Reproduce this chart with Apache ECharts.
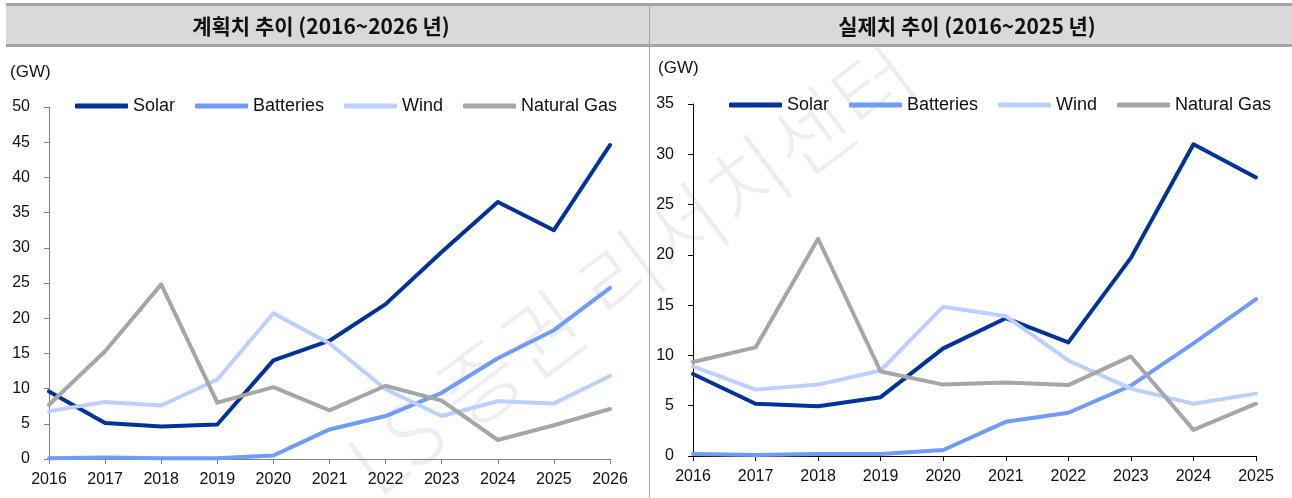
<!DOCTYPE html>
<html>
<head>
<meta charset="utf-8">
<script src="https://cdn.jsdelivr.net/npm/echarts@6/dist/echarts.min.js"></script>
<style>
  html, body { margin: 0; padding: 0; background: #fff; }
  #chart { width: 1292px; height: 498px; }
</style>
</head>
<body>
<div id="chart"></div>
<script>
// planned additions (GW), 2016~2026
const planYears = ['2016', '2017', '2018', '2019', '2020', '2021', '2022', '2023', '2024', '2025', '2026'];
const planSolar = [9.6, 5.1, 4.6, 4.9, 14.0, 16.8, 22.0, 29.4, 36.5, 32.5, 44.6];
const planBatteries = [0.1, 0.2, 0.1, 0.1, 0.5, 4.2, 6.1, 9.4, 14.3, 18.3, 24.3];
const planWind = [6.8, 8.1, 7.6, 11.3, 20.7, 16.4, 9.9, 6.1, 8.2, 7.9, 11.8];
const planGas = [7.7, 15.3, 24.8, 8.0, 10.2, 6.9, 10.4, 8.3, 2.7, 4.8, 7.1];

// actual additions (GW), 2016~2025
const actualYears = ['2016', '2017', '2018', '2019', '2020', '2021', '2022', '2023', '2024', '2025'];
const actualSolar = [8.15, 5.2, 4.95, 5.85, 10.7, 13.7, 11.3, 19.7, 31.0, 27.7];
const actualBatteries = [0.2, 0.1, 0.2, 0.2, 0.6, 3.4, 4.3, 7.0, 11.2, 15.6];
const actualWind = [8.9, 6.6, 7.1, 8.5, 14.85, 13.9, 9.5, 6.7, 5.2, 6.2];
const actualGas = [9.35, 10.8, 21.6, 8.4, 7.1, 7.3, 7.05, 9.9, 2.6, 5.2];

const seriesNames = ['Solar', 'Batteries', 'Wind', 'Natural Gas'];
const colors = ['#003399', '#6f9bfb', '#bcd0ff', '#a6a6a6'];

const numFont = "'Liberation Sans', Arial, sans-serif";
const krFont = "'Noto Sans CJK KR', 'Noto Sans', sans-serif";

const chart = echarts.init(document.getElementById('chart'));

function lineSeries(name, data, idx, color) {
  return {
    name: name,
    type: 'line',
    xAxisIndex: idx,
    yAxisIndex: idx,
    data: data,
    showSymbol: false,
    symbol: 'none',
    lineStyle: { color: color, width: 4, cap: 'round', join: 'round' },
    itemStyle: { color: color },
    animation: false
  };
}

function legendAt(left, top) {
  return {
    left: left,
    top: top,
    data: seriesNames,
    icon: 'roundRect',
    itemWidth: 53,
    itemHeight: 5,
    itemGap: 20,
    textStyle: { fontFamily: numFont, fontSize: 18, color: '#111' }
  };
}

function xAxisFor(gridIndex, cats, axisColor) {
  return {
    type: 'category',
    gridIndex: gridIndex,
    data: cats,
    boundaryGap: false,
    axisLine: { lineStyle: { color: axisColor, width: 1 } },
    axisTick: { show: true, length: 5, lineStyle: { color: axisColor } },
    axisLabel: { fontFamily: numFont, fontSize: 16, color: '#111', margin: 13 },
    splitLine: { show: false }
  };
}

function yAxisFor(gridIndex, max, axisColor) {
  return {
    type: 'value',
    gridIndex: gridIndex,
    min: 0,
    max: max,
    interval: 5,
    axisLine: { show: true, lineStyle: { color: axisColor, width: 1 } },
    axisTick: { show: true, length: 5, lineStyle: { color: axisColor } },
    axisLabel: { fontFamily: numFont, fontSize: 16, color: '#111', margin: 19 },
    splitLine: { show: false }
  };
}

const option = {
  backgroundColor: '#fff',
  animation: false,
  grid: [
    { left: 49, top: 107, width: 561, height: 352 },
    { left: 693, top: 104, width: 563, height: 352 }
  ],
  legend: [legendAt(70, 92), legendAt(724, 91)],
  xAxis: [xAxisFor(0, planYears, '#808080'), xAxisFor(1, actualYears, '#000')],
  yAxis: [yAxisFor(0, 50, '#808080'), yAxisFor(1, 35, '#000')],
  graphic: [
    // watermark
    {
      type: 'text', x: 632, y: 268, rotation: 37 * Math.PI / 180, silent: true, z: -10,
      style: {
        text: 'LS 증권 리서치센터', fontFamily: krFont, fontSize: 86, fontWeight: 300,
        fill: 'rgba(0,0,0,0.065)', textAlign: 'center', textVerticalAlign: 'middle'
      }
    },
    // title bar
    { type: 'rect', shape: { x: 6, y: 3, width: 1286, height: 3 }, style: { fill: '#a5a5a5' } },
    { type: 'rect', shape: { x: 6, y: 6, width: 1286, height: 38 }, style: { fill: '#d9d9d9' } },
    { type: 'rect', shape: { x: 6, y: 44, width: 1286, height: 3 }, style: { fill: '#a5a5a5' } },
    { type: 'line', shape: { x1: 649.5, y1: 5, x2: 649.5, y2: 498 }, style: { stroke: '#a6a6a6', lineWidth: 1 } },
    {
      type: 'text', x: 321, y: 26,
      style: { text: '계획치 추이 (2016~2026 년)', fontFamily: krFont, fontSize: 21, fontWeight: 'bold', fill: '#111', textAlign: 'center', textVerticalAlign: 'middle' }
    },
    {
      type: 'text', x: 967, y: 26,
      style: { text: '실제치 추이 (2016~2025 년)', fontFamily: krFont, fontSize: 21, fontWeight: 'bold', fill: '#111', textAlign: 'center', textVerticalAlign: 'middle' }
    },
    {
      type: 'text', x: 10, y: 72,
      style: { text: '(GW)', fontFamily: numFont, fontSize: 17, fill: '#111', textVerticalAlign: 'middle' }
    },
    {
      type: 'text', x: 658, y: 68,
      style: { text: '(GW)', fontFamily: numFont, fontSize: 17, fill: '#111', textVerticalAlign: 'middle' }
    }
  ],
  series: [
    lineSeries('Solar', planSolar, 0, colors[0]),
    lineSeries('Batteries', planBatteries, 0, colors[1]),
    lineSeries('Wind', planWind, 0, colors[2]),
    lineSeries('Natural Gas', planGas, 0, colors[3]),
    lineSeries('Solar', actualSolar, 1, colors[0]),
    lineSeries('Batteries', actualBatteries, 1, colors[1]),
    lineSeries('Wind', actualWind, 1, colors[2]),
    lineSeries('Natural Gas', actualGas, 1, colors[3])
  ]
};

chart.setOption(option);
window.addEventListener('resize', () => chart.resize());
</script>
</body>
</html>
